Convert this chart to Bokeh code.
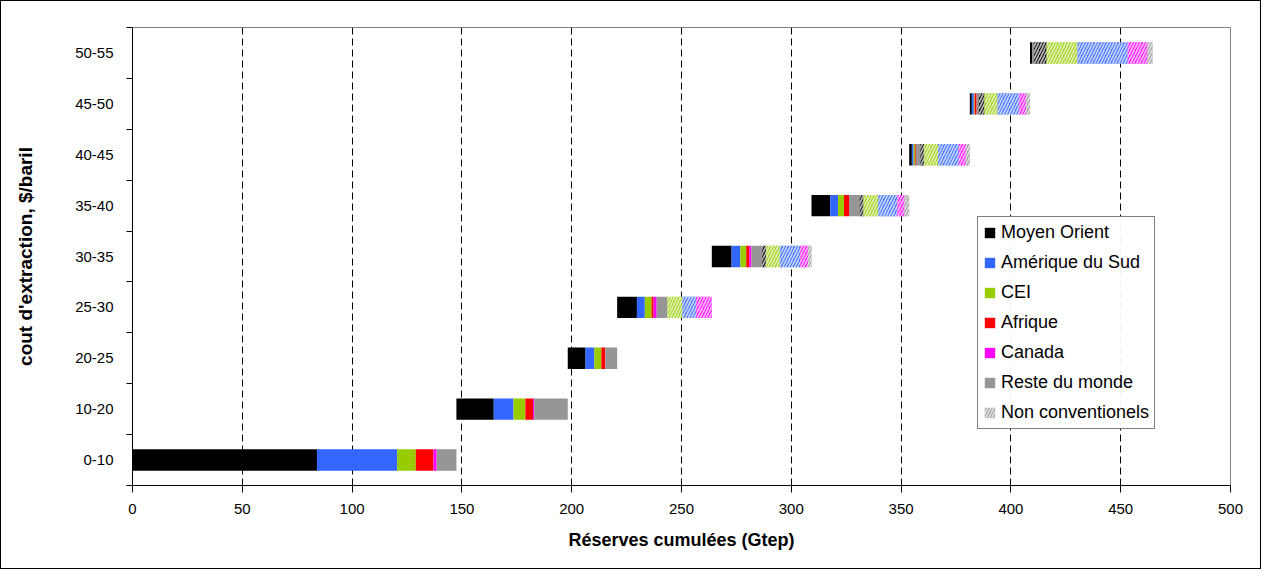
import numpy as np
from bokeh.plotting import figure
from bokeh.models import FixedTicker, Legend, LegendItem, Range1d
from bokeh.embed import file_html
from bokeh.resources import INLINE

categories = ["0-10", "10-20", "20-25", "25-30", "30-35", "35-40", "40-45", "45-50", "50-55"]
regions = ["Moyen Orient", "Amérique du Sud", "CEI", "Afrique", "Canada", "Reste du monde"]
colors = ["#000000", "#3366FF", "#99CC00", "#FF0000", "#FF00FF", "#969696"]

# conventional reserves (Gtep)
conv_mo = [84, 17, 8.1, 9, 9, 8.5, 1.2, 0.9, 0.9]
conv_as = [36.5, 9, 4, 3.6, 4, 3.6, 0.8, 0.9, 0]
conv_cei = [8.5, 5.4, 3.2, 3.1, 2.7, 2.7, 0.6, 0.4, 0]
conv_af = [8, 3.5, 1.8, 0.9, 1.4, 2.3, 0.4, 0.9, 0]
conv_ca = [1.5, 0.5, 0, 1.4, 0.9, 0, 0, 0, 0]
conv_rdm = [9, 15.3, 5.4, 4.9, 4.9, 4.8, 2, 0.9, 0.8]
# non conventional reserves (Gtep)
nc_mo = [0, 0, 0, 0, 1.8, 1.8, 1.8, 2.7, 5.9]
nc_cei = [0, 0, 0, 6.7, 6.3, 6.7, 6.3, 5.9, 14]
nc_as = [0, 0, 0, 6.3, 9.2, 8.7, 9.5, 9.9, 22.9]
nc_af = [0, 0, 0, 0, 0, 0, 0, 0, 0]
nc_ca = [0, 0, 0, 7.2, 3.6, 3.3, 3.2, 3.1, 9]
nc_rdm = [0, 0, 0, 0, 1.6, 2.1, 1.8, 1.8, 2.3]

x_ticks = [0, 50, 100, 150, 200, 250, 300, 350, 400, 450, 500]

conv = [conv_mo, conv_as, conv_cei, conv_af, conv_ca, conv_rdm]
nc_order = [(nc_mo, 0), (nc_cei, 2), (nc_as, 1), (nc_af, 3), (nc_ca, 4), (nc_rdm, 5)]

segs = [(np.array(v, float), colors[i], False, i) for i, v in enumerate(conv)]
segs += [(np.array(v, float), colors[ci], True, ci) for v, ci in nc_order]

totals = sum(s[0] for s in segs)
offsets = np.concatenate([[0], np.cumsum(totals)[:-1]])
ys = np.arange(len(categories)) + 0.5

FONT = "Liberation Sans"

p = figure(width=1261, height=569, output_backend="svg", toolbar_location=None,
           x_range=Range1d(0, 500), y_range=Range1d(0, len(categories)),
           min_border_left=131, min_border_right=32, min_border_top=26, min_border_bottom=85)
p.styles = {"border": "1px solid black", "box-sizing": "border-box"}
p.outline_line_color = "#808080"
p.background_fill_color = "white"
p.border_fill_color = "white"

renderers = {}
left = offsets.copy()
for vals, col, hatched, ci in segs:
    right = left + vals
    kw = dict(y=ys, left=left.copy(), right=right.copy(), height=0.42,
              fill_color=col, line_color=None)
    if hatched:
        kw.update(hatch_pattern="/", hatch_color="white", hatch_alpha=0.7,
                  hatch_scale=6, hatch_weight=1.8)
    r = p.hbar(**kw)
    renderers[(ci, hatched)] = r
    left = right

# axes
p.xaxis.ticker = FixedTicker(ticks=x_ticks)
p.xaxis.axis_label = "Réserves cumulées (Gtep)"
p.xaxis.major_tick_in = 0
p.xaxis.major_tick_out = 7
p.xaxis.minor_tick_line_color = None
p.xaxis.axis_line_color = "black"
p.xaxis.major_tick_line_color = "black"

p.yaxis.ticker = FixedTicker(ticks=list(ys), minor_ticks=list(range(len(categories) + 1)))
p.yaxis.major_label_overrides = {float(y): c for y, c in zip(ys, categories)}
p.yaxis.major_tick_line_color = None
p.yaxis.major_tick_out = 0
p.yaxis.minor_tick_in = 0
p.yaxis.minor_tick_out = 6
p.yaxis.minor_tick_line_color = "black"
p.yaxis.axis_line_color = "black"
p.yaxis.axis_label = "cout d'extraction, $/baril"

for ax in [p.xaxis[0], p.yaxis[0]]:
    ax.major_label_text_font = FONT
    ax.major_label_text_font_size = "15px"
    ax.major_label_text_color = "black"
    ax.axis_label_text_font = FONT
    ax.axis_label_text_font_style = "bold"
    ax.axis_label_text_color = "black"

p.xaxis.axis_label_text_font_size = "18px"
p.yaxis.axis_label_text_font_size = "19px"
p.xaxis.major_label_standoff = 11
p.xaxis.axis_label_standoff = 13
p.yaxis.major_label_standoff = 13
p.yaxis.axis_label_standoff = 36

p.ygrid.grid_line_color = None
p.xgrid.ticker = FixedTicker(ticks=x_ticks)
p.xgrid.grid_line_color = "black"
p.xgrid.grid_line_dash = "7 4"
p.xgrid.grid_line_width = 1

items = [LegendItem(label=regions[i], renderers=[renderers[(i, False)]]) for i in range(6)]
items.append(LegendItem(label="Non conventionels", renderers=[renderers[(5, True)]]))
legend = Legend(items=items, location=(845, 56))
legend.label_text_font = FONT
legend.label_text_font_size = "18px"
legend.label_text_color = "black"
legend.glyph_width = 13
legend.glyph_height = 13
legend.label_height = 21
legend.spacing = 9
legend.padding = 5
legend.margin = 0
legend.label_standoff = 5
legend.border_line_color = "black"
legend.border_line_width = 1
legend.background_fill_color = "white"
p.add_layout(legend, "center")

open("out.html", "w").write(file_html(p, INLINE))
